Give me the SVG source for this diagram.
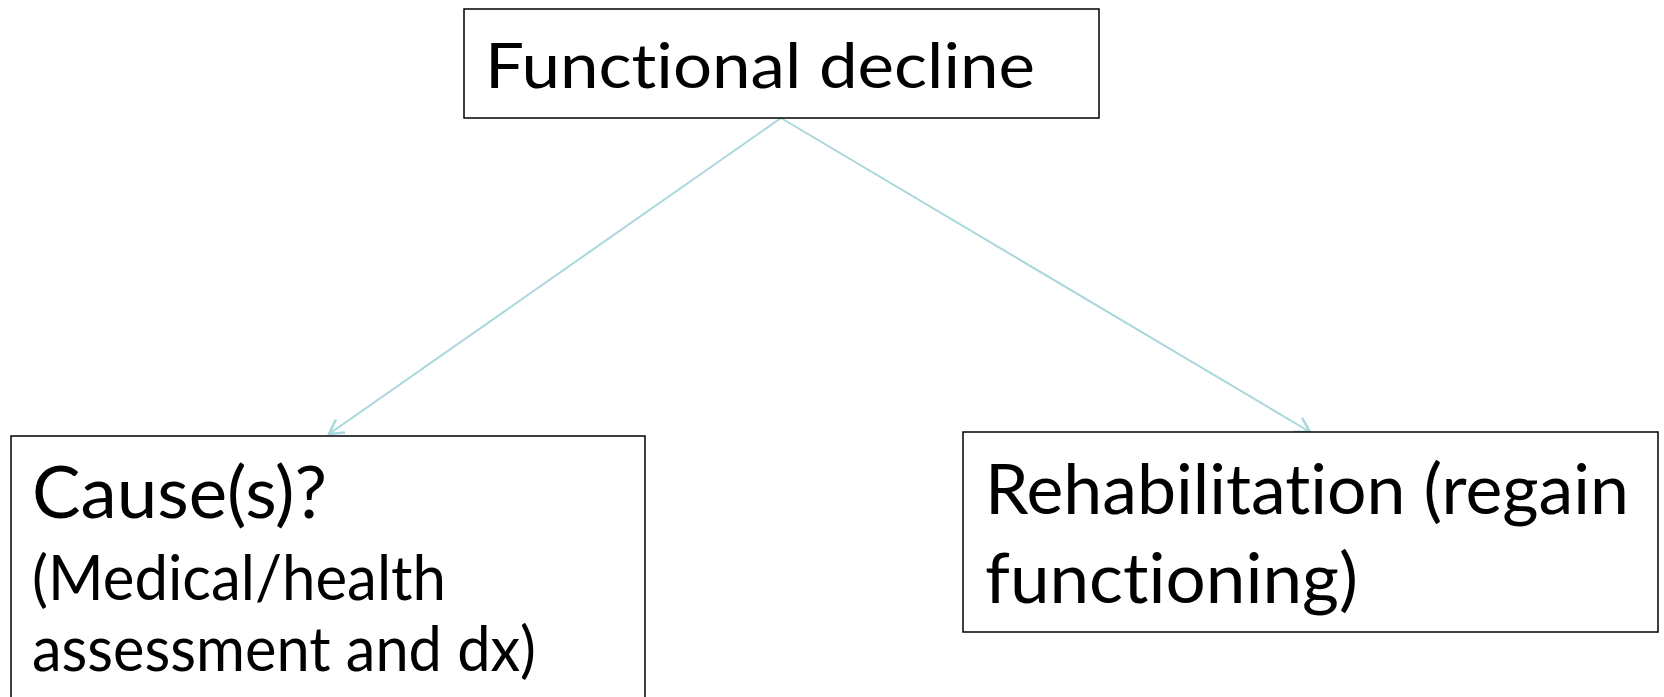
<svg xmlns="http://www.w3.org/2000/svg" width="1664" height="697" viewBox="0 0 1664 697">
<style>
.box{fill:#fff;stroke:#000;stroke-width:1.5}
.t{font-family:Lato,"Open Sans","Liberation Sans",sans-serif;fill:#000;font-variant-ligatures:none;font-feature-settings:"liga" 0,"clig" 0}
.c{stroke:#a9d8dc;stroke-width:2;fill:none}
</style>
<defs>
<marker id="ah" markerWidth="20" markerHeight="20" refX="14" refY="8" orient="auto" markerUnits="userSpaceOnUse" overflow="visible">
<path d="M0,0 L14,8 L0,16" fill="none" stroke="#a9d8dc" stroke-width="2.5"/>
</marker>
</defs>
<rect width="1664" height="697" fill="#fff"/>
<g id="connectors">
<line class="c" x1="781" y1="118" x2="329" y2="434" marker-end="url(#ah)"/>
<line class="c" x1="781" y1="118" x2="1310" y2="432" marker-end="url(#ah)"/>
</g>
<g id="n-functional-decline">
<rect class="box" x="464" y="9" width="635" height="109"/>
<text class="t" x="485" y="88" font-size="62" textLength="550" lengthAdjust="spacingAndGlyphs">Functional decline</text>
</g>
<g id="n-causes">
<rect class="box" x="11" y="436" width="634" height="280"/>
<text class="t" x="32" y="518" font-size="72" textLength="295" lengthAdjust="spacingAndGlyphs">Cause(s)?</text>
<text class="t" x="32" y="600" font-size="62" textLength="414" lengthAdjust="spacingAndGlyphs">(Medical/health</text>
<text class="t" x="32" y="671" font-size="62" textLength="504" lengthAdjust="spacingAndGlyphs">assessment and dx)</text>
</g>
<g id="n-rehabilitation">
<rect class="box" x="963" y="432" width="695" height="200"/>
<text class="t" x="985" y="514" font-size="70" textLength="644" lengthAdjust="spacingAndGlyphs">Rehabilitation (regain</text>
<text class="t" x="985" y="603" font-size="70" textLength="373" lengthAdjust="spacingAndGlyphs">functioning)</text>
</g>
</svg>
